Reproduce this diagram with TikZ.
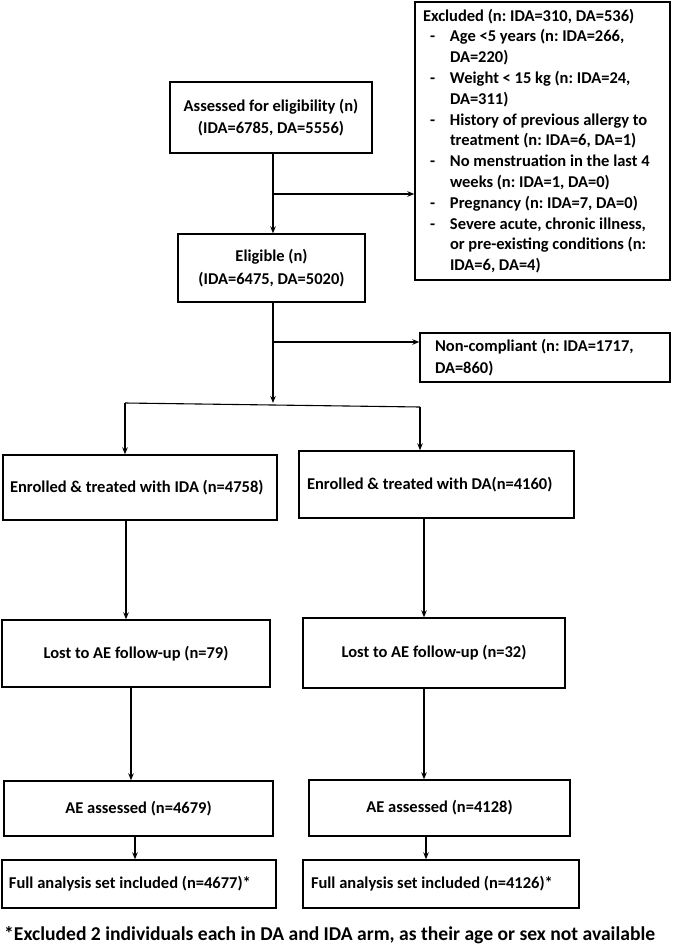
\documentclass[tikz,border=0pt]{standalone}
\usepackage{fontspec}
\setmainfont{Carlito}
\usetikzlibrary{arrows.meta}
\newcommand\exdash{\makebox[27pt][l]{\hspace{7pt}-}}
\newcommand\exind{\hspace*{27pt}}
\begin{document}
\frenchspacing
\begin{tikzpicture}[x=1pt,y=-1pt,
  box/.style={draw, line width=1.4pt, inner sep=0pt, font=\bfseries\fontsize{16.5}{22.3}\selectfont},
  arr/.style={line width=1.1pt, -{Stealth[length=7pt,width=5.5pt]}},
  ln/.style={line width=1.1pt}]
\useasboundingbox (0,0) rectangle (672,947);
% top part
\node[box, font=\bfseries\fontsize{16.5}{20.8}\selectfont, minimum width=255pt, minimum height=278pt, text width=239pt, inner xsep=8pt, align=flush left] (excl) at (542.5,141)
 {Excluded (n: IDA=310, DA=536)\\
  \exdash Age <5 years (n: IDA=266,\\
  \exind DA=220)\\
  \exdash Weight < 15 kg (n: IDA=24,\\
  \exind DA=311)\\
  \exdash History of previous allergy to\\
  \exind treatment (n: IDA=6, DA=1)\\
  \exdash No menstruation in the last 4\\
  \exind weeks (n: IDA=1, DA=0)\\
  \exdash Pregnancy (n: IDA=7, DA=0)\\
  \exdash Severe acute, chronic illness,\\
  \exind or pre-existing conditions (n:\\
  \exind IDA=6, DA=4)};
\node[box, minimum width=202pt, minimum height=71pt, align=center] (assess) at (271,117.5)
 {Assessed for eligibility (n)\\(IDA=6785, DA=5556)};
\node[box, minimum width=187pt, minimum height=68pt, align=center] (elig) at (271.5,268)
 {Eligible (n)\\(IDA=6475, DA=5020)};
\node[box, minimum width=250pt, minimum height=49pt, text width=220pt, inner xsep=15pt, align=flush left] (noncomp) at (545,357.5)
 {Non-compliant (n: IDA=1717,\\DA=860)};
% arms
\node[box, minimum width=274pt, minimum height=65pt, text width=260pt, inner xsep=7pt, align=flush left] (enIDA) at (140,487.5)
 {Enrolled \& treated with IDA (n=4758)};
\node[box, minimum width=275pt, minimum height=67pt, text width=259pt, inner xsep=8pt, align=flush left] (enDA) at (436.5,484.5)
 {Enrolled \& treated with DA(n=4160)};
\node[box, minimum width=268pt, minimum height=67pt, align=center] (lostIDA) at (136,653.5)
 {Lost to AE follow-up (n=79)};
\node[box, minimum width=262pt, minimum height=70pt, align=center] (lostDA) at (434,653)
 {Lost to AE follow-up (n=32)};
\node[box, minimum width=269pt, minimum height=55pt, align=center] (aeIDA) at (138.5,808.5)
 {AE assessed (n=4679)};
\node[box, minimum width=261pt, minimum height=56pt, align=center] (aeDA) at (439.5,808)
 {AE assessed (n=4128)};
\node[box, minimum width=274pt, minimum height=48pt, text width=260pt, inner xsep=7pt, align=flush left] (fullIDA) at (139,884)
 {Full analysis set included (n=4677)*};
\node[box, minimum width=276pt, minimum height=48pt, text width=260pt, inner xsep=8pt, align=flush left] (fullDA) at (441,884)
 {Full analysis set included (n=4126)*};
\node[font=\bfseries\fontsize{19.6}{22}\selectfont, inner sep=0pt, anchor=west] (note) at (4,935)
 {*Excluded 2 individuals each in DA and IDA arm, as their age or sex not available};
% connector coordinates
\coordinate (b1) at (273,194);
\coordinate (b2) at (273,342);
\coordinate (hl) at (125,403);
\coordinate (hr) at (420,407);
\coordinate (c1) at (126,0);
\coordinate (c2) at (131,0);
\coordinate (c3) at (135,0);
\coordinate (d1) at (424,0);
\coordinate (d2) at (424,0);
\coordinate (d3) at (426,0);
\coordinate (mid) at (273,0);
% connectors
\draw[arr] (mid |- assess.south) -- (mid |- elig.north);
\draw[arr] (b1) -- (b1 -| excl.west);
\draw[arr] (mid |- elig.south) -- (mid |- hl);
\draw[arr] (b2) -- (b2 -| noncomp.west);
\draw[ln] (hl) -- (hr);
\draw[arr] (hl) -- (hl |- enIDA.north);
\draw[arr] (hr) -- (hr |- enDA.north);
\draw[arr] (c1 |- enIDA.south) -- (c1 |- lostIDA.north);
\draw[arr] (c2 |- lostIDA.south) -- (c2 |- aeIDA.north);
\draw[arr] (c3 |- aeIDA.south) -- (c3 |- fullIDA.north);
\draw[arr] (d1 |- enDA.south) -- (d1 |- lostDA.north);
\draw[arr] (d2 |- lostDA.south) -- (d2 |- aeDA.north);
\draw[arr] (d3 |- aeDA.south) -- (d3 |- fullDA.north);
\end{tikzpicture}
\end{document}
